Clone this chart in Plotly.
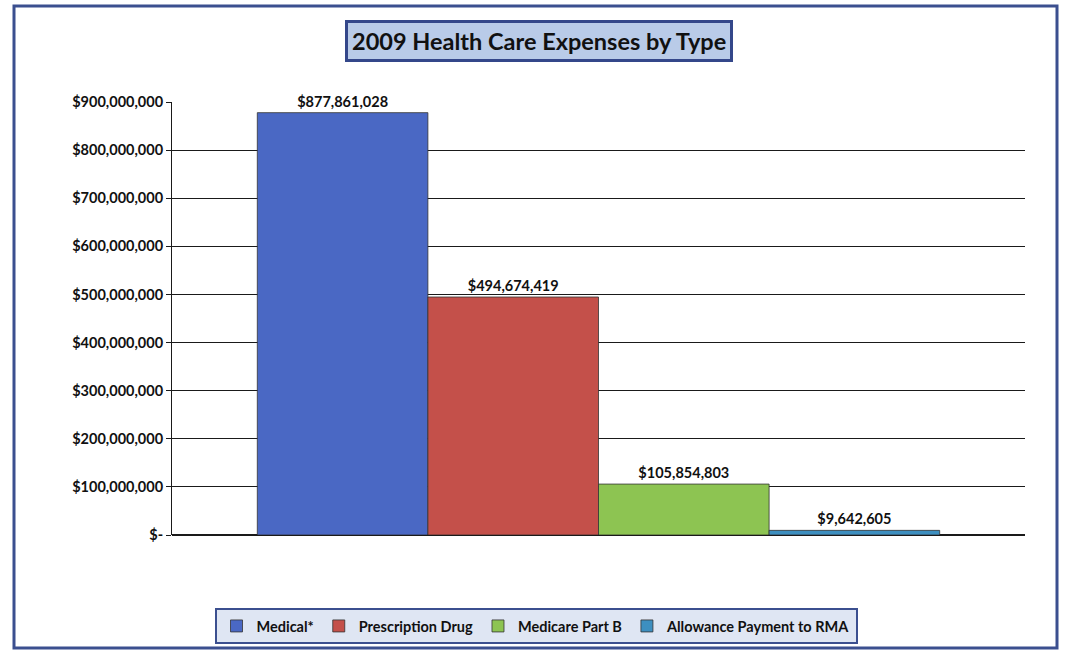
import plotly.graph_objects as go

categories = ["Medical*", "Prescription Drug", "Medicare Part B", "Allowance Payment to RMA"]
values = [877861028, 494674419, 105854803, 9642605]
colors = ["#4a68c4", "#c4504a", "#8dc452", "#3d8fc0"]
tick_vals = [0, 100000000, 200000000, 300000000, 400000000, 500000000,
             600000000, 700000000, 800000000, 900000000]
tick_text = ["$-", "$100,000,000", "$200,000,000", "$300,000,000", "$400,000,000",
             "$500,000,000", "$600,000,000", "$700,000,000", "$800,000,000", "$900,000,000"]

FONT = "Lato"

fig = go.Figure()
for name, v, c in zip(categories, values, colors):
    fig.add_trace(go.Bar(
        x=[""], y=[v], name=name,
        marker=dict(color=c, line=dict(color="#333333", width=0.8)),
        text=[f"${v:,}"], textposition="outside", cliponaxis=False,
        textfont=dict(family=FONT, size=14.5, color="#111111", weight="bold"),
    ))

L, R, T, B = 172, 42, 102, 115
W, H = 1067, 650
pw, ph = W - L - R, H - T - B

def px(x):
    return (x - L) / pw

def py(y):
    return (H - B - y) / ph

fig.update_layout(
    width=W, height=H,
    margin=dict(l=L, r=R, t=T, b=B, autoexpand=False),
    paper_bgcolor="white", plot_bgcolor="white",
    barmode="group", bargap=0.2, bargroupgap=0,
    font=dict(family=FONT, color="#111111"),
    showlegend=True,
    legend=dict(
        orientation="h", x=px(536), xanchor="center", y=py(626), yanchor="middle",
        bgcolor="#dfe6f3", bordercolor="#3b4f8f", borderwidth=2,
        font=dict(family=FONT, size=14.5, color="#111111", weight="bold"),
        itemwidth=30, tracegroupgap=0,
    ),
    xaxis=dict(showticklabels=False, showgrid=False, zeroline=False, showline=False),
    yaxis=dict(
        range=[0, 900000000], tickvals=tick_vals, ticktext=tick_text,
        showgrid=True, gridcolor="#1a1a1a", gridwidth=1,
        showline=True, linecolor="#1a1a1a", linewidth=1,
        ticks="outside", ticklen=5, tickcolor="#1a1a1a",
        zeroline=True, zerolinecolor="#1a1a1a",
        tickfont=dict(family=FONT, size=14.5, color="#111111", weight="bold"),
    ),
    shapes=[
        dict(type="rect", xref="paper", yref="paper",
             x0=px(14), x1=px(1057), y0=py(648), y1=py(6),
             line=dict(color="#3b4f8f", width=3), fillcolor="rgba(0,0,0,0)", layer="below"),
    ],
    annotations=[
        dict(text="<b>2009 Health Care Expenses by Type</b>", xref="paper", yref="paper",
             x=px(539), y=py(41), xanchor="center", yanchor="middle", showarrow=False,
             font=dict(family=FONT, size=23.5, color="#111111"),
             bgcolor="#b9cbe8", bordercolor="#34478a", borderwidth=3, borderpad=4),
    ],
)

fig.write_html("out.html")
